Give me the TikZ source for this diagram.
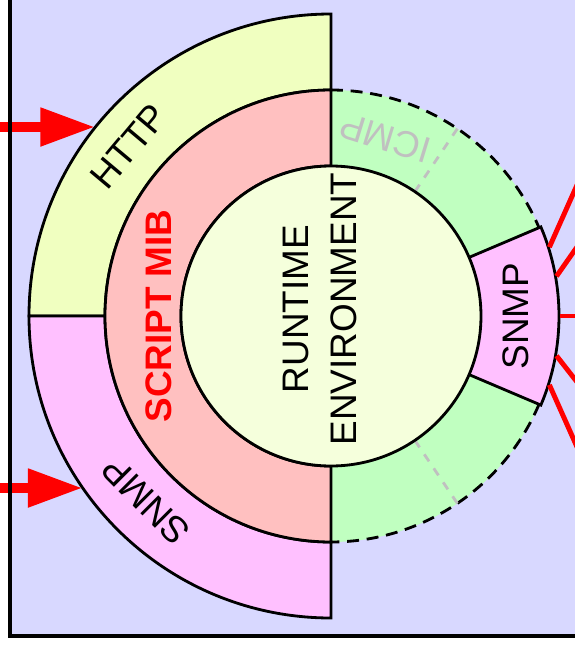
\documentclass[tikz,border=0pt]{standalone}
\usepackage{fontspec}
\setmainfont{Liberation Sans}
\usetikzlibrary{arrows.meta}

\definecolor{backdrop}{RGB}{216,216,255}
\definecolor{httpfill}{RGB}{240,255,192}
\definecolor{mibfill}{RGB}{255,192,192}
\definecolor{snmpfill}{RGB}{255,192,255}
\definecolor{icmpfill}{RGB}{192,255,192}
\definecolor{corefill}{RGB}{245,255,220}
\definecolor{faded}{RGB}{192,192,192}

\newcommand{\ringfont}{\fontsize{10.5}{13.7}\selectfont}
\newcommand{\rcore}{1.50}
\newcommand{\rmib}{2.26}
\newcommand{\rout}{3.02}

\begin{document}
\begin{tikzpicture}[
  line width=0.8pt,
  lbl/.style={font=\ringfont, align=center, inner sep=0pt},
  boldlbl/.style={font=\ringfont\bfseries, inner sep=0pt},
  feed/.style={red, line width=3.1pt, -{Triangle[length=0.55cm, width=0.36cm]}},
  wire/.style={red, line width=1.4pt},
  rim/.style={dash pattern=on 3.4pt off 2.2pt},
  sector/.style={dash pattern=on 2.4pt off 2.4pt, faded},
]
\useasboundingbox (-3.31,-3.30) rectangle (2.44,3.16);
\clip (-3.31,-3.30) rectangle (2.44,3.16);
\fill[white] (-3.31,-3.30) rectangle (2.44,3.16);
\fill[backdrop] (-3.21,-3.20) rectangle (3,4);

%%%%%%%%%%%%%%%%%%%%%%%%%%%%%%%%%%%%%%%%
% right half: icmp ring with the snmp port

\fill[icmpfill] (-90:\rmib) arc[start angle=-90, end angle=90, radius=\rmib]
  -- (90:\rcore) arc[start angle=90, end angle=-90, radius=\rcore] -- cycle;
\draw[rim] (90:\rmib) arc[start angle=90, end angle=23, radius=\rmib];
\draw[rim] (-23:\rmib) arc[start angle=-23, end angle=-90, radius=\rmib];
\draw[sector] (56:\rcore) -- (56:\rmib);
\draw[sector] (-56:\rcore) -- (-56:\rmib);
\node[lbl, faded, rotate=163] (icmp) at (73:1.86) {ICMP};

\draw[fill=snmpfill] (-23:\rcore) -- (-23:2.28)
  arc[start angle=-23, end angle=23, radius=2.28] -- (23:\rcore) -- cycle;

%%%%%%%%%%%%%%%%%%%%%%%%%%%%%%%%%%%%%%%%
% left half: http / snmp around the script mib

\draw[fill=httpfill] (90:\rmib) -- (90:\rout)
  arc[start angle=90, end angle=180, radius=\rout]
  -- (180:\rmib) arc[start angle=180, end angle=90, radius=\rmib] -- cycle;
\draw[fill=snmpfill] (180:\rmib) -- (180:\rout)
  arc[start angle=180, end angle=270, radius=\rout]
  -- (270:\rmib) arc[start angle=270, end angle=180, radius=\rmib] -- cycle;
\draw[fill=mibfill] (90:\rcore) -- (90:\rmib)
  arc[start angle=90, end angle=270, radius=\rmib]
  -- (270:\rcore) arc[start angle=270, end angle=90, radius=\rcore] -- cycle;
\draw[fill=corefill] (0,0) circle[radius=\rcore];

\node[lbl, rotate=50] (http) at (140:2.64) {HTTP};
\node[lbl, rotate=135] (snmpout) at (225:2.62) {SNMP};
\node[boldlbl, red, rotate=90] (mib) at (-1.72,0) {SCRIPT MIB};
\node[lbl, rotate=90] (runtime) at (-0.11,0.07) {RUNTIME\\ENVIRONMENT};
\node[lbl, rotate=90] (snmpin) at (1.85,0) {SNMP};

%%%%%%%%%%%%%%%%%%%%%%%%%%%%%%%%%%%%%%%%
% requests coming in, agents going out

\coordinate (httpsrc) at (-3.60,1.89);
\coordinate (httptip) at (-2.356,1.89);
\coordinate (snmpsrc) at (-3.60,-1.72);
\coordinate (snmptip) at (-2.48,-1.72);
\draw[feed] (httpsrc) -- (httptip);
\draw[feed] (snmpsrc) -- (snmptip);

\foreach \a/\d [count=\i] in {17.5/66, 10/55, 0/0, -10/-52, -17.5/-66} {
  \coordinate (port\i) at (\a:2.29);
  \draw[wire] (port\i) -- ++(\d:1.5);
}

\draw[line width=0.95pt] (-3.21,4) -- (-3.21,-3.20) -- (3,-3.20);

\end{tikzpicture}
\end{document}
